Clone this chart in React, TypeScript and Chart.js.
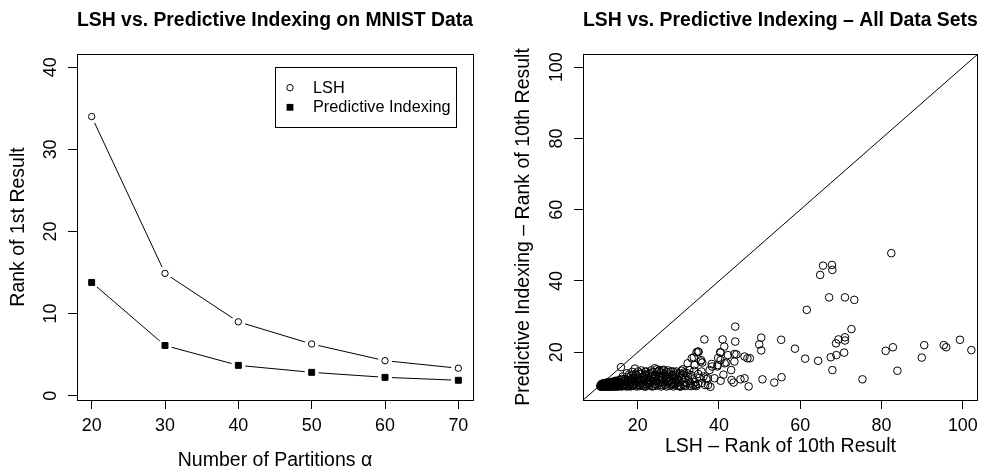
import React, { useEffect, useRef } from "react";
import { Chart, registerables } from "chart.js";

Chart.register(...registerables);

const FONT = "'Liberation Sans', Arial, Helvetica, sans-serif";

// ---- Left panel data (MNIST) ----
const PARTITIONS = [20, 30, 40, 50, 60, 70];
const LSH_RANK1 = [34.0, 14.9, 9.0, 6.3, 4.27, 3.35];
const PI_RANK1 = [13.8, 6.12, 3.7, 2.85, 2.24, 1.88];
const LEFT_X_TICKS = [20, 30, 40, 50, 60, 70];
const LEFT_Y_TICKS = [0, 10, 20, 30, 40];
const LEFT_LEGEND = ["LSH", "Predictive Indexing"];

// ---- Right panel data (all data sets) ----
const RIGHT_TICKS = [20, 40, 60, 80, 100];
const DIAGONAL: [number, number][] = [[0, 0], [110, 110]];
const ALL_SETS_POINTS: [number, number][] = [
  [10.9, 10.4], [11.0, 10.7], [11.2, 10.3], [11.3, 10.9], [11.4, 10.5], [11.5, 10.6], [11.6, 11.0], [11.7, 10.4], [11.8, 10.8], [11.9, 10.5],
  [12.0, 11.2], [12.1, 10.4], [12.2, 10.7], [12.3, 10.9], [12.4, 10.3], [12.5, 11.3], [12.6, 10.6], [12.7, 10.5], [12.8, 11.0], [12.9, 10.4],
  [13.0, 10.8], [13.1, 11.5], [13.2, 10.5], [13.3, 10.6], [13.4, 11.1], [13.5, 10.3], [13.6, 10.7], [13.7, 11.7], [13.8, 10.5], [13.9, 11.2],
  [14.0, 10.4], [14.1, 10.9], [14.2, 11.5], [14.3, 10.6], [14.4, 10.4], [14.5, 11.0], [14.6, 12.0], [14.7, 10.5], [14.8, 11.3], [14.9, 10.6],
  [15.0, 10.8], [15.1, 11.7], [15.3, 10.4], [15.4, 11.1], [15.6, 12.2], [15.7, 10.6], [15.9, 11.4], [15.9, 15.8],
  [10.8, 10.6], [11.0, 10.3], [11.1, 11.1], [11.3, 10.5], [11.5, 11.3], [11.6, 10.4], [11.8, 11.2], [11.9, 10.9], [12.0, 10.5], [12.2, 11.4],
  [12.3, 10.5], [12.5, 10.8], [12.6, 11.6], [12.8, 10.4], [12.9, 11.2], [13.1, 10.5], [13.2, 10.9], [13.4, 10.4], [13.5, 11.6], [13.7, 10.6],
  [13.8, 11.0], [14.0, 11.4], [14.1, 10.5], [14.3, 11.8], [14.4, 10.8], [14.6, 10.4], [14.7, 11.2], [14.9, 11.9], [15.0, 10.4], [15.2, 11.0],
  [15.3, 12.1], [15.5, 10.5], [15.6, 11.4], [15.8, 10.8], [16.0, 12.5], [16.1, 10.4],
  [16.2, 10.5], [16.5, 11.8], [16.8, 10.9], [17.0, 12.5], [17.2, 10.4], [17.4, 11.6], [17.6, 13.0], [17.8, 10.7], [18.0, 12.2], [18.2, 11.2],
  [18.4, 13.4], [18.5, 10.5], [18.7, 12.8], [18.9, 11.5], [19.1, 10.6], [19.3, 15.4], [19.4, 12.0], [19.6, 13.6], [19.8, 10.9], [20.0, 11.8],
  [20.2, 12.9], [20.4, 10.5], [20.6, 13.8], [20.8, 11.3], [21.0, 14.1], [21.1, 12.4], [21.3, 10.7], [21.5, 13.2], [21.7, 11.9], [21.9, 14.5],
  [22.0, 10.4], [22.1, 14.6], [22.2, 12.7], [22.4, 11.4], [22.7, 13.5], [22.9, 10.8], [23.1, 12.1], [23.3, 14.9], [23.4, 11.6], [23.6, 13.0],
  [23.8, 10.5], [24.0, 12.6], [24.2, 15.5], [24.4, 11.1], [24.5, 13.6], [24.7, 15.2], [24.9, 10.7], [25.0, 12.3], [25.2, 14.8], [25.4, 15.0],
  [25.5, 11.8], [25.6, 13.4], [25.8, 10.4], [25.9, 12.7], [26.1, 14.9], [26.3, 11.3], [26.5, 13.9], [26.8, 10.9], [27.0, 12.5], [27.2, 14.4],
  [27.4, 11.6], [27.6, 13.1], [27.8, 10.6], [28.0, 12.2], [28.2, 14.6], [28.4, 11.2], [28.6, 13.5], [28.7, 14.6], [29.0, 10.8], [29.2, 13.6],
  [29.4, 12.0], [29.6, 14.1], [29.8, 11.4], [30.0, 12.2], [30.2, 10.5], [30.4, 10.4],
  [16.3, 13.2], [16.6, 10.7], [16.9, 12.1], [17.1, 11.0], [17.3, 14.1], [17.5, 10.5], [17.7, 12.0], [17.9, 13.8], [18.1, 10.4], [18.3, 11.8],
  [18.6, 14.5], [18.8, 10.8], [19.0, 12.6], [19.2, 11.1], [19.5, 14.0], [19.7, 10.4], [19.9, 12.4], [20.1, 14.6], [20.3, 11.5], [20.5, 10.8],
  [20.7, 12.2], [20.9, 14.9], [21.2, 11.0], [21.4, 12.9], [21.6, 10.4], [21.8, 13.7], [22.3, 10.9], [22.5, 12.2], [22.8, 14.0], [23.0, 11.3],
  [23.2, 13.3], [23.5, 10.4], [23.7, 14.4], [23.9, 11.9], [24.1, 13.1], [24.3, 10.6], [24.6, 12.0], [24.8, 14.5], [25.1, 11.4], [25.3, 13.0],
  [25.7, 14.2], [26.0, 10.8], [26.2, 12.4], [26.4, 15.1], [26.6, 11.6], [26.9, 13.4], [27.1, 10.4], [27.3, 12.8], [27.5, 14.9], [27.7, 11.9],
  [27.9, 13.8], [28.1, 10.9], [28.3, 12.6], [28.5, 11.6], [28.8, 10.4], [29.1, 12.9], [29.3, 11.0], [29.5, 14.6], [29.7, 12.5], [29.9, 10.7],
  [30.1, 13.2], [30.3, 11.8], [30.5, 14.0], [30.6, 10.4], [30.9, 12.3], [31.3, 10.8], [31.4, 14.3], [31.7, 10.5], [32.1, 11.3], [32.4, 13.1],
  [32.7, 15.0], [33.0, 11.2], [33.2, 10.5], [33.5, 12.4], [33.9, 14.8], [34.1, 11.6], [34.4, 10.5], [35.2, 12.8], [35.8, 11.4], [36.2, 13.2],
  [36.6, 10.8],
  [30.8, 14.8], [31.1, 15.2], [31.2, 13.7], [31.5, 11.6], [31.8, 12.8], [32.0, 14.2], [32.3, 16.9], [32.6, 11.9], [32.8, 10.6], [33.1, 13.6],
  [33.3, 18.3], [33.7, 10.8], [33.8, 18.6], [34.0, 16.4], [34.2, 10.8], [34.5, 20.0], [34.8, 20.2], [34.9, 13.9], [34.9, 11.1], [35.0, 20.1],
  [35.5, 17.4], [35.6, 17.8], [35.7, 14.6], [35.9, 17.1], [36.4, 23.6], [36.9, 12.5], [37.3, 12.7], [37.3, 10.8], [37.7, 15.0], [37.9, 10.3],
  [38.2, 16.7], [38.3, 16.0], [38.9, 12.7], [39.6, 16.0], [39.7, 16.4], [39.8, 18.4], [40.3, 20.0], [40.4, 19.9], [40.4, 17.8], [40.4, 12.0],
  [40.9, 23.6], [41.1, 13.7], [41.3, 21.6], [41.4, 16.9], [41.8, 17.1], [42.2, 19.2], [43.0, 15.0], [43.1, 12.2], [43.6, 11.5], [43.8, 19.5],
  [43.8, 17.4], [44.0, 27.2], [44.0, 23.0], [44.3, 19.4], [45.3, 12.4], [46.3, 12.7], [46.3, 18.8], [47.0, 18.3], [47.6, 18.3], [47.3, 10.4],
  [49.9, 22.2], [50.4, 24.1], [50.4, 20.5], [50.7, 12.4], [53.6, 11.5], [55.3, 23.5], [55.4, 13.0], [58.7, 21.0], [61.2, 18.2], [61.6, 31.9],
  [64.4, 17.6], [64.9, 41.7], [65.6, 44.3], [67.1, 35.4], [67.5, 18.6], [67.8, 44.5], [67.9, 15.0], [67.9, 43.1], [68.8, 22.5], [68.9, 19.2],
  [69.4, 23.6], [70.8, 19.9], [71.0, 24.2], [71.0, 23.3], [71.0, 35.4], [72.6, 26.5], [73.3, 34.7], [75.3, 12.4], [81.0, 20.4], [82.4, 47.8],
  [82.8, 21.4], [83.9, 14.8], [89.9, 18.5], [90.5, 22.0], [95.3, 22.0], [95.9, 21.4], [99.3, 23.5], [102.1, 20.6],
];

Chart.defaults.font.family = FONT;
Chart.defaults.color = "#000";

const align = (v: number) => Math.round(v - 0.5) + 0.5;

const framePlugin = {
  id: "frame",
  afterDatasetsDraw(chart: any) {
    const { left, top, right, bottom } = chart.chartArea;
    const ctx = chart.ctx;
    ctx.save();
    ctx.strokeStyle = "#000";
    ctx.lineWidth = 1;
    ctx.strokeRect(align(left), align(top), align(right) - align(left), align(bottom) - align(top));
    ctx.restore();
  },
};

function rotatedYTicks(offset: number, size: number) {
  return {
    id: "rotatedYTicks",
    afterDraw(chart: any) {
      const scale = chart.scales.y;
      const ctx = chart.ctx;
      ctx.save();
      ctx.fillStyle = "#000";
      ctx.font = `${size}px ${FONT}`;
      ctx.textAlign = "center";
      ctx.textBaseline = "middle";
      for (const t of scale.ticks) {
        const py = scale.getPixelForValue(t.value);
        ctx.save();
        ctx.translate(scale.right - offset, py);
        ctx.rotate(-Math.PI / 2);
        ctx.fillText(String(t.value), 0, 0);
        ctx.restore();
      }
      ctx.restore();
    },
  };
}

const legendPlugin = {
  id: "boxLegend",
  afterDraw(chart: any) {
    const { right, top } = chart.chartArea;
    const ctx = chart.ctx;
    const w = 181;
    const h = 59.5;
    const bx = right - 17 - w;
    const by = top + 13.3;
    ctx.save();
    ctx.strokeStyle = "#000";
    ctx.lineWidth = 1;
    ctx.fillStyle = "#fff";
    ctx.fillRect(bx, by, w, h);
    ctx.strokeRect(align(bx), align(by), Math.round(w), Math.round(h));
    const rows = [by + 20.4, by + 40];
    const sx = bx + 15;
    ctx.beginPath();
    ctx.arc(sx, rows[0], 3.2, 0, Math.PI * 2);
    ctx.fillStyle = "#fff";
    ctx.fill();
    ctx.stroke();
    ctx.fillStyle = "#000";
    ctx.fillRect(sx - 3.4, rows[1] - 3.4, 6.8, 6.8);
    ctx.font = `16.3px ${FONT}`;
    ctx.textAlign = "left";
    ctx.textBaseline = "middle";
    ctx.fillText(LEFT_LEGEND[0], bx + 38, rows[0] + 0.5);
    ctx.fillText(LEFT_LEGEND[1], bx + 38, rows[1] + 0.5);
    ctx.restore();
  },
};

const tickGrid = {
  display: true,
  drawOnChartArea: false,
  drawTicks: true,
  tickLength: 9,
  color: "#000",
  lineWidth: 1,
};

function leftConfig(): any {
  const lsh = PARTITIONS.map((x, i) => ({ x, y: LSH_RANK1[i] }));
  const pi = PARTITIONS.map((x, i) => ({ x, y: PI_RANK1[i] }));
  return {
    type: "scatter",
    data: {
      datasets: [
        {
          label: LEFT_LEGEND[0], data: lsh, order: 0, showLine: false,
          pointStyle: "circle", pointRadius: 3.2, pointBackgroundColor: "#fff",
          pointBorderColor: "#000", pointBorderWidth: 1,
        },
        {
          label: LEFT_LEGEND[1], data: pi, order: 1, showLine: false,
          pointStyle: "rect", pointRadius: 4.2, pointBackgroundColor: "#000",
          pointBorderColor: "#000", pointBorderWidth: 1,
        },
        {
          label: "lsh-line", data: lsh, order: 2, showLine: true,
          borderColor: "#000", borderWidth: 1, pointRadius: 7,
          pointBackgroundColor: "#fff", pointBorderWidth: 0, pointBorderColor: "#fff",
        },
        {
          label: "pi-line", data: pi, order: 3, showLine: true,
          borderColor: "#000", borderWidth: 1, pointRadius: 7,
          pointBackgroundColor: "#fff", pointBorderWidth: 0, pointBorderColor: "#fff",
        },
      ],
    },
    options: {
      responsive: false,
      animation: false,
      events: [],
      layout: { padding: { left: 0, right: 19, top: 0, bottom: 0 } },
      plugins: {
        legend: { display: false },
        tooltip: { enabled: false },
        title: {
          display: true, fullSize: false,
          text: "LSH vs. Predictive Indexing on MNIST Data",
          color: "#000",
          font: { size: 19.5, weight: "bold", family: FONT, lineHeight: 1.2 },
          padding: { top: 8.8, bottom: 21.8 },
        },
      },
      scales: {
        x: {
          type: "linear", min: 18, max: 72,
          afterBuildTicks: (s: any) => { s.ticks = LEFT_X_TICKS.map((value) => ({ value })); },
          afterFit: (s: any) => { s.height = 69; },
          grid: tickGrid,
          border: { display: false },
          ticks: { font: { size: 17.9 }, color: "#000", padding: 6, maxRotation: 0, autoSkip: false },
          title: {
            display: true, text: "Number of Partitions α", color: "#000",
            font: { size: 19.5, lineHeight: 1 }, padding: { top: 0, bottom: -1.5 },
          },
        },
        y: {
          type: "linear", min: -0.52, max: 41.62,
          afterBuildTicks: (s: any) => { s.ticks = LEFT_Y_TICKS.map((value) => ({ value })); },
          afterFit: (s: any) => { s.width = 77; },
          grid: tickGrid,
          border: { display: false },
          ticks: { display: false },
          title: {
            display: true, text: "Rank of 1st Result", color: "#000",
            font: { size: 19.5, lineHeight: 1 }, padding: { top: 9.25, bottom: 0 },
          },
        },
      },
    },
    plugins: [framePlugin, rotatedYTicks(26, 17.9), legendPlugin],
  };
}

function rightConfig(): any {
  return {
    type: "scatter",
    data: {
      datasets: [
        {
          label: "data sets", data: ALL_SETS_POINTS.map(([x, y]) => ({ x, y })), order: 0,
          showLine: false, pointStyle: "circle", pointRadius: 3.8,
          pointBackgroundColor: "rgba(0,0,0,0)", pointBorderColor: "#000", pointBorderWidth: 1,
        },
        {
          label: "y = x", data: DIAGONAL.map(([x, y]) => ({ x, y })), order: 1,
          showLine: true, borderColor: "#000", borderWidth: 1, pointRadius: 0,
        },
      ],
    },
    options: {
      responsive: false,
      animation: false,
      events: [],
      layout: { padding: { left: 0, right: 5, top: 0, bottom: 0 } },
      plugins: {
        legend: { display: false },
        tooltip: { enabled: false },
        title: {
          display: true, fullSize: false,
          text: "LSH vs. Predictive Indexing – All Data Sets",
          color: "#000",
          font: { size: 19.5, weight: "bold", family: FONT, lineHeight: 1.2 },
          padding: { top: 8.8, bottom: 21.8 },
        },
      },
      scales: {
        x: {
          type: "linear", min: 6.55, max: 103.7,
          afterBuildTicks: (s: any) => { s.ticks = RIGHT_TICKS.map((value) => ({ value })); },
          afterFit: (s: any) => { s.height = 69; },
          grid: tickGrid,
          border: { display: false },
          ticks: { font: { size: 17.9 }, color: "#000", padding: 6, maxRotation: 0, autoSkip: false },
          title: {
            display: true, text: "LSH – Rank of 10th Result", color: "#000",
            font: { size: 19.5, lineHeight: 1 }, padding: { top: 0, bottom: 13 },
          },
        },
        y: {
          type: "linear", min: 6.6, max: 103.7,
          afterBuildTicks: (s: any) => { s.ticks = RIGHT_TICKS.map((value) => ({ value })); },
          afterFit: (s: any) => { s.width = 91; },
          grid: tickGrid,
          border: { display: false },
          ticks: { display: false },
          title: {
            display: true, text: "Predictive Indexing – Rank of 10th Result", color: "#000",
            font: { size: 19.5, lineHeight: 1 }, padding: { top: 21.75, bottom: 0 },
          },
        },
      },
    },
    plugins: [framePlugin, rotatedYTicks(25.5, 17.9)],
  };
}

function Panel({ make }: { make: () => any }) {
  const ref = useRef<HTMLCanvasElement | null>(null);
  useEffect(() => {
    if (!ref.current) return;
    const chart = new Chart(ref.current, make());
    return () => chart.destroy();
  }, [make]);
  return (
    <div style={{ width: 492, height: 469, position: "relative" }}>
      <canvas ref={ref} width={492} height={469} style={{ width: 492, height: 469, display: "block" }} />
    </div>
  );
}

export default function App() {
  return (
    <div
      style={{
        position: "fixed", left: 0, top: 0, width: 984, height: 469,
        display: "flex", background: "#fff", overflow: "hidden",
      }}
    >
      <Panel make={leftConfig} />
      <Panel make={rightConfig} />
    </div>
  );
}
